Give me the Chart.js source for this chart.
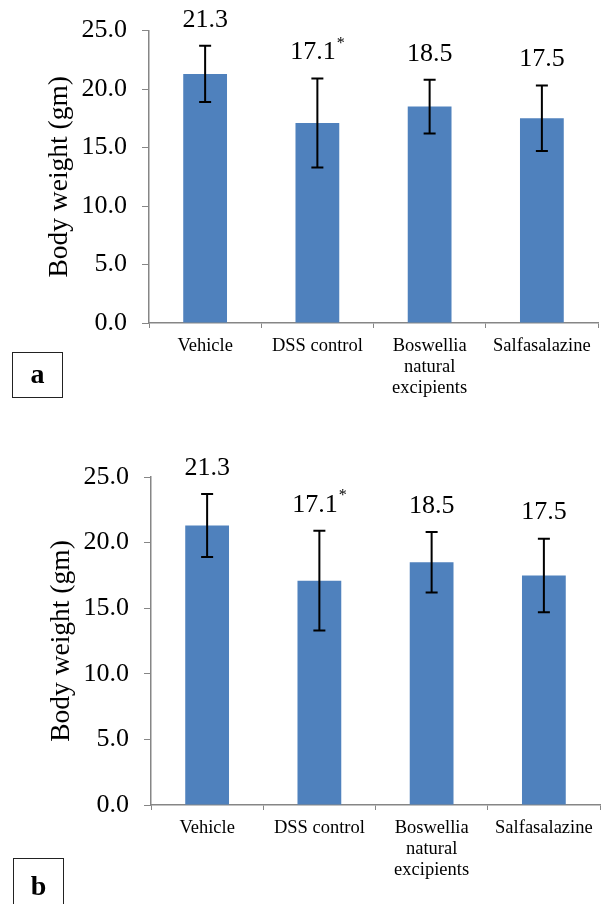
<!DOCTYPE html>
<html>
<head>
<meta charset="utf-8">
<script src="https://cdn.jsdelivr.net/npm/chart.js@4/dist/chart.umd.min.js"></script>
<style>
  html, body { margin: 0; padding: 0; background: #fff; }
  body { width: 605px; height: 904px; position: relative; overflow: hidden; }
  .panel { position: absolute; left: 0; }
  .tag {
    position: absolute; box-sizing: border-box; border: 1.5px solid #222;
    font-family: "Liberation Serif", "Times New Roman", serif; font-weight: bold;
    font-size: 28px; text-align: center; color: #000;
  }
</style>
</head>
<body>
<div class="panel" style="top:0"><canvas id="chartA" width="605" height="430"></canvas></div>
<div class="panel" style="top:440px"><canvas id="chartB" width="605" height="464"></canvas></div>
<div class="tag" style="left:12px; top:352px; width:51px; height:46px; line-height:42px;">a</div>
<div class="tag" style="left:13px; top:858px; width:51px; height:60px; line-height:54px;">b</div>

<script>
// Treatment groups on the x axis
const groups = ['Vehicle', 'DSS control', ['Boswellia', 'natural', 'excipients'], 'Salfasalazine'];
// Mean body weight (gm) per group
const bodyWeight = [21.3, 17.1, 18.5, 17.5];
// Standard deviation per group (drawn as error bars)
const weightSD = [2.4, 3.8, 2.3, 2.8];
// Significance marks shown next to the value labels
const signif = ['', '*', '', ''];
// Y axis range and step
const yMin = 0, yMax = 25, yStep = 5;

const SERIF = '"Liberation Serif", "Times New Roman", serif';

// Draws the SD whiskers and the value labels above them
const errorBarPlugin = {
  id: 'errorBars',
  afterDatasetsDraw(chart) {
    const ctx = chart.ctx;
    const y = chart.scales.y;
    const meta = chart.getDatasetMeta(0);
    ctx.save();
    meta.data.forEach((bar, i) => {
      const v = bodyWeight[i], e = weightSD[i];
      const x = bar.x;
      const top = y.getPixelForValue(v + e);
      const bot = y.getPixelForValue(v - e);
      ctx.strokeStyle = '#000';
      ctx.lineWidth = 2;
      ctx.beginPath();
      ctx.moveTo(x, top); ctx.lineTo(x, bot);
      ctx.moveTo(x - 6, top); ctx.lineTo(x + 6, top);
      ctx.moveTo(x - 6, bot); ctx.lineTo(x + 6, bot);
      ctx.stroke();

      // value label, centred over the bar together with any significance mark
      const txt = v.toFixed(1);
      ctx.font = '26px ' + SERIF;
      const w1 = ctx.measureText(txt).width;
      ctx.font = '16px ' + SERIF;
      const w2 = signif[i] ? ctx.measureText(signif[i]).width + 1 : 0;
      const start = x - (w1 + w2) / 2;
      const ly = top - 26;
      ctx.fillStyle = '#000';
      ctx.textBaseline = 'middle';
      ctx.textAlign = 'left';
      ctx.font = '26px ' + SERIF;
      ctx.fillText(txt, start, ly);
      if (signif[i]) {
        ctx.font = '16px ' + SERIF;
        ctx.fillText(signif[i], start + w1 + 1, ly - 9);
      }
    });
    ctx.restore();
  }
};

function buildChart(id, layout) {
  return new Chart(document.getElementById(id), {
    type: 'bar',
    data: {
      labels: groups,
      datasets: [{
        data: bodyWeight,
        backgroundColor: '#4F81BD',
        borderWidth: 0,
        barPercentage: 0.39,
        categoryPercentage: 1.0
      }]
    },
    options: {
      responsive: false,
      animation: false,
      devicePixelRatio: 1,
      layout: { padding: { top: layout.top, right: layout.right, left: 0, bottom: 0 } },
      plugins: { legend: { display: false }, tooltip: { enabled: false } },
      scales: {
        x: {
          offset: true,
          grid: { display: true, offset: true, drawOnChartArea: false, drawTicks: true,
                  tickLength: 5, color: '#868686', lineWidth: 1 },
          border: { display: true, color: '#868686', width: 1.5 },
          ticks: { color: '#000', font: { family: SERIF, size: 18.5, lineHeight: 1.12 },
                   padding: 8, maxRotation: 0, autoSkip: false },
          afterFit(scale) { scale.height = layout.xHeight; }
        },
        y: {
          min: yMin, max: yMax,
          grid: { display: true, drawOnChartArea: false, drawTicks: true,
                  tickLength: 7, color: '#868686', lineWidth: 1 },
          border: { display: true, color: '#868686', width: 1.5 },
          ticks: { stepSize: yStep, color: '#000', padding: 15,
                   font: { family: SERIF, size: 26 },
                   callback: (val) => Number(val).toFixed(1) },
          title: { display: true, text: 'Body weight (gm)', color: '#000',
                   font: { family: SERIF, size: 27.5, lineHeight: 1.2 },
                   padding: { top: layout.titlePad, bottom: 0 } },
          afterFit(scale) { scale.width = layout.yWidth; }
        }
      }
    },
    plugins: [errorBarPlugin]
  });
}

buildChart('chartA', { top: 27, right: 7, xHeight: 107, yWidth: 149, titlePad: 43 });
buildChart('chartB', { top: 37, right: 5, xHeight: 99, yWidth: 151, titlePad: 45 });
</script>
</body>
</html>
